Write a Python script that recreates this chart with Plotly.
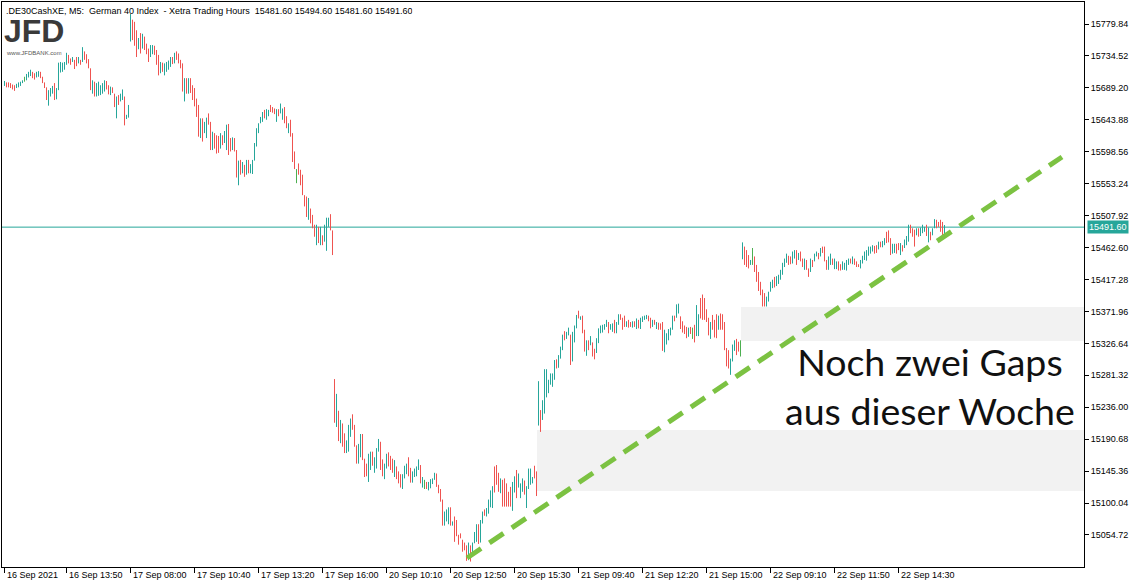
import plotly.graph_objects as go

# ---------------- data (M5 bars, 16 Sep 11:15 -> 22 Sep 16:25, Xetra hours) ----------------
opens = [
    # 16 Sep
    15692,15697,15697,15696,15694,15693,15689,15690,15692,15696,
    15702,15700,15704,15706,15712,15710,15704,15705,15712,15705,
    15697,15690,15664,15677,15681,15696,15673,15686,15711,15712,
    15715,15722,15736,15731,15726,15729,15733,15724,15729,15726,
    15741,15737,15730,15717,15681,15698,15677,15678,15679,15681,
    15684,15699,15693,15679,15690,15681,15646,15679,15670,15672,
    15677,15645,15647,
    # 17 Sep
    15755,15786,15783,15771,15744,15767,15745,15762,15752,15745,
    15733,15737,15749,15743,15736,15710,15725,15707,15712,15715,
    15719,15733,15724,15741,15738,15729,15724,15670,15703,15681,
    15703,15693,15689,15674,15665,15618,15646,15625,15618,15653,
    15641,15601,15625,15622,15621,15603,15622,15611,15601,15638,
    15618,15601,15618,15601,15551,15587,15568,15580,15566,15587,
    15568,15567,15586,15606,15625,15639,15641,15658,15644,15649,
    15665,15662,15660,15641,15659,15653,15644,15662,15649,15625,
    15644,15625,15599,15564,15582,15573,15566,15537,15535,15502,
    15518,15509,15495,15466,15492,15466,15480,15471,15458,15492,
    15510,15487,
    # 20 Sep
    15276,15208,15231,15185,15213,15199,15171,15173,15194,15226,
    15211,15182,15156,15165,15198,15163,15156,15130,15147,15173,
    15143,15149,15173,15187,15162,15134,15149,15172,15167,15163,
    15137,15152,15145,15141,15120,15135,15141,15165,15150,15129,
    15137,15138,15147,15154,15122,15126,15130,15118,15121,15127,
    15133,15142,15126,15120,15105,15068,15074,15070,15094,15068,
    15081,15076,15055,15057,15048,15044,15040,15019,15040,15029,
    15043,15045,15070,15044,15071,15091,15081,15085,15094,15093,
    15152,15154,15143,15114,15133,15135,15128,15116,15123,15089,
    15115,15147,15122,15107,15116,15132,15093,15120,15126,15128,
    15153,15145,
    # 21 Sep
    15210,15232,15218,15227,15250,15256,15268,15265,15275,15304,
    15292,15305,15317,15344,15333,15338,15339,15301,15328,15348,
    15373,15360,15366,15346,15309,15331,15324,15328,15319,15313,
    15327,15341,15342,15346,15350,15357,15346,15343,15360,15341,
    15353,15368,15363,15366,15350,15360,15357,15349,15358,15347,
    15360,15347,15357,15360,15361,15366,15363,15350,15360,15347,
    15356,15355,15357,15314,15325,15331,15338,15346,15366,15363,
    15369,15365,15358,15352,15350,15336,15350,15341,15353,15337,
    15337,15391,15396,15391,15375,15363,15333,15367,15360,15368,
    15346,15369,15368,15357,15320,15317,15282,15301,15316,15333,
    15329,15320,
    # 22 Sep
    15446,15464,15459,15452,15438,15450,15450,15438,15428,15414,
    15403,15398,15379,15386,15400,15405,15421,15408,15411,15417,
    15424,15435,15441,15451,15450,15440,15447,15459,15445,15457,
    15447,15431,15445,15433,15428,15445,15443,15450,15455,15450,
    15464,15464,15445,15431,15438,15447,15432,15432,15443,15439,
    15431,15431,15430,15438,15447,15439,15447,15443,15439,15433,
    15440,15445,15444,15451,15454,15457,15465,15466,15460,15471,
    15463,15466,15485,15487,15476,15454,15455,15468,15469,15452,
    15466,15462,15466,15471,15495,15490,15488,15480,15490,15479,
    15483,15485,15495,15470,15485,15480,15490,15502,15499,15502,
    15499,15481.6,
]

highs = [
    # 16 Sep
    15699,15697,15697,15696,15694,15693,15695,15697,15698,15700,
    15705,15709,15712,15715,15712,15710,15712,15713,15712,15705,
    15697,15690,15686,15689,15692,15696,15689,15725,15726,15725,
    15726,15739,15736,15731,15733,15729,15733,15733,15729,15747,
    15741,15737,15730,15717,15700,15698,15696,15698,15693,15696,
    15700,15699,15693,15691,15690,15681,15677,15679,15681,15687,
    15677,15651,15665,
    # 17 Sep
    15794,15786,15783,15771,15760,15767,15766,15762,15752,15745,
    15750,15750,15749,15743,15736,15726,15725,15724,15726,15728,
    15733,15733,15739,15741,15738,15729,15724,15703,15703,15703,
    15703,15693,15689,15674,15665,15646,15646,15641,15647,15653,
    15641,15627,15625,15622,15621,15625,15622,15628,15637,15638,
    15618,15619,15618,15601,15586,15587,15584,15580,15587,15587,
    15581,15587,15611,15632,15639,15648,15655,15658,15659,15658,
    15665,15662,15660,15659,15659,15667,15660,15662,15649,15639,
    15644,15625,15599,15574,15582,15573,15566,15537,15535,15533,
    15518,15509,15495,15495,15492,15492,15480,15495,15505,15505,
    15510,15487,
    # 20 Sep
    15276,15255,15231,15218,15213,15199,15189,15211,15220,15226,
    15211,15182,15184,15198,15198,15163,15156,15170,15173,15173,
    15165,15178,15191,15187,15162,15156,15170,15172,15167,15163,
    15161,15152,15145,15141,15141,15153,15156,15165,15150,15145,
    15149,15152,15162,15154,15137,15133,15130,15130,15134,15135,
    15143,15142,15126,15120,15105,15088,15091,15094,15094,15074,
    15081,15076,15055,15057,15048,15044,15040,15044,15040,15044,
    15059,15070,15070,15076,15088,15091,15093,15105,15118,15124,
    15152,15154,15143,15135,15133,15135,15128,15116,15123,15130,
    15138,15147,15142,15128,15135,15132,15124,15149,15149,15137,
    15153,15145,
    # 21 Sep
    15273,15232,15246,15290,15290,15275,15284,15284,15303,15304,
    15310,15322,15339,15344,15343,15349,15339,15343,15352,15367,
    15373,15365,15366,15346,15331,15331,15337,15328,15319,15334,
    15348,15352,15353,15354,15360,15357,15354,15355,15360,15357,
    15368,15368,15363,15366,15358,15360,15357,15358,15358,15362,
    15360,15363,15365,15366,15367,15366,15363,15360,15360,15357,
    15356,15355,15357,15346,15341,15347,15349,15366,15366,15382,
    15383,15365,15358,15352,15350,15349,15350,15349,15353,15381,
    15368,15391,15396,15391,15375,15363,15357,15367,15360,15368,
    15366,15369,15368,15357,15320,15317,15305,15325,15331,15333,
    15329,15331,
    # 22 Sep
    15470,15464,15459,15452,15445,15462,15450,15438,15428,15414,
    15403,15398,15393,15400,15414,15417,15421,15422,15424,15431,
    15441,15447,15454,15451,15450,15457,15459,15459,15455,15457,
    15447,15447,15445,15433,15447,15445,15454,15457,15455,15462,
    15464,15464,15445,15450,15454,15447,15447,15443,15443,15439,
    15443,15441,15445,15447,15447,15450,15447,15443,15439,15445,
    15451,15457,15459,15464,15464,15466,15465,15466,15471,15471,
    15472,15476,15485,15487,15476,15468,15468,15468,15469,15469,
    15466,15474,15479,15495,15495,15490,15488,15490,15490,15491,
    15495,15492,15495,15491,15485,15490,15503,15502,15499,15502,
    15499,15494.6,
]

lows = [
    # 16 Sep
    15692,15690,15690,15689,15687,15685,15689,15690,15692,15696,
    15698,15700,15704,15706,15703,15701,15704,15705,15703,15696,
    15689,15672,15664,15677,15681,15672,15673,15686,15711,15712,
    15715,15722,15724,15722,15726,15716,15720,15724,15722,15726,
    15729,15724,15717,15686,15681,15677,15677,15678,15679,15681,
    15684,15687,15680,15679,15682,15662,15646,15665,15670,15672,
    15636,15645,15647,
    # 17 Sep
    15755,15757,15749,15733,15744,15738,15745,15743,15737,15726,
    15733,15737,15736,15722,15707,15710,15712,15707,15712,15715,
    15719,15723,15724,15729,15724,15717,15684,15670,15681,15681,
    15682,15672,15663,15648,15620,15618,15613,15625,15618,15637,
    15601,15601,15603,15596,15597,15603,15608,15611,15601,15594,
    15599,15601,15599,15562,15551,15566,15568,15563,15566,15568,
    15568,15567,15586,15606,15625,15639,15641,15646,15644,15649,
    15655,15654,15652,15641,15649,15653,15644,15639,15632,15625,
    15620,15584,15574,15554,15566,15551,15537,15521,15506,15502,
    15497,15490,15478,15466,15469,15466,15466,15471,15458,15492,
    15487,15452,
    # 20 Sep
    15214,15208,15188,15185,15180,15171,15171,15173,15194,15204,
    15180,15156,15156,15165,15161,15137,15138,15130,15147,15153,
    15143,15149,15173,15147,15138,15134,15149,15152,15147,15143,
    15137,15134,15128,15122,15120,15135,15141,15138,15129,15129,
    15137,15138,15147,15128,15122,15120,15120,15118,15121,15127,
    15133,15123,15114,15102,15068,15068,15074,15070,15068,15068,
    15045,15053,15041,15050,15031,15033,15018,15019,15017,15029,
    15043,15045,15042,15044,15071,15082,15081,15085,15094,15093,
    15115,15126,15116,15114,15095,15095,15095,15095,15095,15089,
    15115,15107,15122,15107,15116,15112,15093,15120,15126,15128,
    15135,15110,
    # 21 Sep
    15210,15201,15218,15227,15250,15256,15268,15265,15275,15291,
    15292,15305,15317,15331,15333,15338,15296,15301,15328,15348,
    15362,15360,15341,15315,15309,15317,15324,15308,15304,15313,
    15327,15341,15342,15346,15350,15341,15346,15343,15341,15341,
    15353,15360,15346,15350,15350,15349,15350,15349,15350,15347,
    15348,15347,15357,15360,15361,15358,15348,15350,15353,15347,
    15346,15346,15316,15314,15325,15331,15338,15346,15358,15363,
    15369,15347,15342,15340,15334,15336,15340,15333,15328,15337,
    15337,15362,15360,15360,15357,15338,15333,15346,15335,15334,
    15346,15346,15346,15317,15294,15291,15282,15301,15316,15310,
    15315,15308,
    # 22 Sep
    15446,15438,15435,15433,15438,15438,15428,15414,15401,15395,
    15379,15379,15379,15386,15400,15405,15406,15408,15411,15417,
    15424,15435,15441,15438,15439,15440,15447,15438,15445,15443,
    15435,15431,15431,15421,15428,15435,15443,15450,15446,15450,
    15455,15443,15431,15431,15438,15438,15432,15432,15430,15430,
    15431,15431,15430,15438,15440,15439,15438,15435,15435,15433,
    15440,15445,15444,15451,15454,15457,15454,15455,15460,15463,
    15463,15466,15469,15470,15452,15454,15455,15454,15459,15452,
    15457,15462,15466,15471,15483,15478,15464,15480,15478,15479,
    15483,15485,15479,15470,15473,15480,15490,15490,15492,15485,
    15479,15481.6,
]

closes = [
    # 16 Sep
    15699,15690,15690,15689,15687,15685,15695,15697,15698,15700,
    15702,15709,15712,15715,15703,15701,15712,15713,15703,15696,
    15689,15672,15686,15689,15692,15672,15689,15725,15726,15725,
    15726,15739,15724,15722,15733,15716,15720,15733,15722,15747,
    15729,15724,15717,15686,15700,15677,15696,15698,15693,15696,
    15700,15687,15680,15691,15682,15662,15677,15665,15681,15687,
    15636,15651,15665,
    # 17 Sep
    15794,15757,15749,15733,15760,15738,15766,15743,15737,15726,
    15750,15750,15736,15722,15707,15726,15712,15724,15726,15728,
    15733,15723,15739,15729,15724,15717,15684,15703,15681,15703,
    15682,15672,15663,15648,15620,15646,15613,15641,15647,15637,
    15601,15627,15603,15596,15597,15625,15608,15628,15637,15594,
    15599,15619,15599,15562,15586,15566,15584,15563,15587,15568,
    15581,15587,15611,15632,15639,15648,15655,15646,15659,15658,
    15655,15654,15652,15659,15649,15667,15660,15639,15632,15639,
    15620,15584,15574,15564,15566,15551,15537,15521,15506,15533,
    15497,15490,15478,15495,15469,15492,15466,15495,15505,15505,
    15487,15452,
    # 20 Sep
    15214,15255,15188,15218,15180,15171,15189,15211,15220,15204,
    15180,15156,15184,15198,15161,15137,15138,15170,15173,15153,
    15165,15178,15191,15147,15138,15156,15170,15152,15147,15143,
    15161,15134,15128,15122,15141,15153,15156,15138,15129,15145,
    15149,15152,15162,15128,15137,15126,15120,15130,15134,15135,
    15143,15123,15114,15102,15068,15088,15091,15094,15068,15074,
    15045,15053,15041,15050,15031,15033,15018,15044,15017,15044,
    15059,15070,15042,15076,15088,15082,15093,15105,15118,15124,
    15115,15126,15116,15135,15095,15095,15095,15095,15095,15130,
    15138,15107,15142,15128,15135,15112,15124,15149,15149,15137,
    15135,15110,
    # 21 Sep
    15273,15201,15246,15290,15290,15275,15284,15284,15303,15291,
    15310,15322,15339,15331,15343,15349,15296,15343,15352,15367,
    15362,15365,15341,15315,15331,15317,15337,15308,15304,15334,
    15348,15352,15353,15354,15360,15341,15354,15355,15341,15357,
    15368,15360,15346,15350,15358,15349,15350,15358,15350,15362,
    15348,15363,15365,15366,15367,15358,15348,15360,15353,15357,
    15346,15346,15316,15346,15341,15347,15349,15366,15358,15382,
    15383,15347,15342,15340,15334,15349,15340,15341,15328,15381,
    15368,15362,15360,15360,15357,15338,15357,15346,15335,15334,
    15366,15346,15346,15317,15294,15291,15305,15325,15331,15310,
    15315,15320,
    # 22 Sep
    15470,15438,15435,15433,15445,15450,15428,15414,15401,15395,
    15379,15379,15393,15400,15414,15417,15406,15422,15424,15431,
    15441,15447,15454,15438,15439,15457,15459,15438,15455,15443,
    15435,15447,15431,15421,15447,15435,15454,15457,15446,15462,
    15455,15443,15431,15450,15454,15438,15447,15443,15430,15430,
    15443,15441,15445,15447,15440,15450,15438,15435,15435,15445,
    15451,15457,15459,15464,15464,15466,15454,15455,15471,15463,
    15472,15476,15469,15470,15452,15468,15468,15454,15459,15469,
    15457,15474,15479,15495,15483,15478,15464,15490,15478,15491,
    15495,15492,15479,15491,15473,15490,15503,15490,15492,15485,
    15479,15491.6,
]

tick_idx = [0, 31, 63, 95, 127, 159, 191, 223, 255, 287, 319, 351, 383, 415, 447]
tick_labels = ["16 Sep 2021", "16 Sep 13:50", "17 Sep 08:00", "17 Sep 10:40", "17 Sep 13:20",
               "17 Sep 16:00", "20 Sep 10:10", "20 Sep 12:50", "20 Sep 15:30", "21 Sep 09:40",
               "21 Sep 12:20", "21 Sep 15:00", "22 Sep 09:10", "22 Sep 11:50", "22 Sep 14:30"]

price_ticks = [15054.72, 15100.04, 15145.36, 15190.68, 15236.00, 15281.32, 15326.64,
               15371.96, 15417.28, 15462.60, 15507.92, 15553.24, 15598.56, 15643.88,
               15689.20, 15734.52, 15779.84]

last_price = 15491.60
title_text = ".DE30CashXE, M5:  German 40 Index  - Xetra Trading Hours  15481.60 15494.60 15481.60 15491.60"

# price gaps (start bar index, lower price, upper price)
gap_start = [267, 369]
gap_low = [15117.2, 15330.0]
gap_high = [15203.8, 15378.3]

# hand drawn trend line (bar index, price)
trend_x = [231.25, 528.75]
trend_y = [15022.1, 15591.1]

note_text = "Noch zwei Gaps<br>aus dieser Woche"

# ---------------- figure ----------------
TEAL = "#26a69a"
RED = "#ef5350"
DOJI = "#4caf50"
FONT = "Liberation Sans"

n = min(len(opens), len(highs), len(lows), len(closes))
xs = list(range(n))
norm = [i for i in range(n) if opens[i] != closes[i]]
doji = [i for i in range(n) if opens[i] == closes[i]]

fig = go.Figure()

fig.add_trace(go.Ohlc(
    x=[xs[i] for i in norm], open=[opens[i] for i in norm], high=[highs[i] for i in norm],
    low=[lows[i] for i in norm], close=[closes[i] for i in norm],
    increasing=dict(line=dict(color=TEAL, width=1)),
    decreasing=dict(line=dict(color=RED, width=1)),
    tickwidth=0, hoverinfo="skip", showlegend=False))

fig.add_trace(go.Ohlc(
    x=[xs[i] for i in doji], open=[opens[i] for i in doji], high=[highs[i] for i in doji],
    low=[lows[i] for i in doji], close=[closes[i] for i in doji],
    increasing=dict(line=dict(color=DOJI, width=1)),
    decreasing=dict(line=dict(color=DOJI, width=1)),
    tickwidth=0, hoverinfo="skip", showlegend=False))

fig.add_trace(go.Scatter(
    x=trend_x, y=trend_y, mode="lines",
    line=dict(color="#7cc242", width=5, dash="17px,10px"),
    hoverinfo="skip", showlegend=False))

X_MAX = 539.75
shapes = []
for s, lo, hi in zip(gap_start, gap_low, gap_high):
    shapes.append(dict(type="rect", xref="x", yref="y", x0=s - 0.75, x1=X_MAX, y0=lo, y1=hi,
                       fillcolor="#f2f2f2", line=dict(width=0), layer="below"))
shapes.append(dict(type="line", xref="paper", yref="y", x0=0, x1=1, y0=last_price, y1=last_price,
                   line=dict(color=TEAL, width=1), layer="below"))

annotations = []
for ti, tl in zip(tick_idx, tick_labels):
    annotations.append(dict(x=ti, y=0, xref="x", yref="paper", text=tl, showarrow=False,
                            xanchor="left", yanchor="top", xshift=0, yshift=-1,
                            font=dict(family=FONT, size=9, color="black")))

annotations.append(dict(x=1, y=last_price, xref="paper", yref="y", text=f"{last_price:.2f}",
                        showarrow=False, xanchor="left", yanchor="middle", xshift=3,
                        bgcolor=TEAL, borderpad=1,
                        font=dict(family=FONT, size=9, color="white")))

annotations.append(dict(x=0.0028, y=0.9858, xref="paper", yref="paper",
                        text=title_text.replace(" ", "\u00a0"), showarrow=False,
                        xanchor="left", yanchor="middle", height=11, borderpad=0,
                        font=dict(family=FONT, size=9, color="black")))

annotations.append(dict(x=0.0005, y=0.9478, xref="paper", yref="paper", text="<b>JFD</b>",
                        showarrow=False, xanchor="left", yanchor="middle", height=24, borderpad=0,
                        font=dict(family=FONT, size=32, color="#3a3a3a")))
annotations.append(dict(x=0.0028, y=0.9105, xref="paper", yref="paper", text="www.JFDBANK.com",
                        showarrow=False, xanchor="left", yanchor="middle", height=6, borderpad=0,
                        font=dict(family=FONT, size=6, color="#555555")))

annotations.append(dict(x=0.8577, y=0.3203, xref="paper", yref="paper", text=note_text,
                        showarrow=False, xanchor="center", yanchor="middle", align="center",
                        font=dict(family="Lato", size=37.5, color="#111111")))

fig.update_layout(
    width=1142, height=588,
    margin=dict(l=2, r=58, t=2, b=21),
    paper_bgcolor="white", plot_bgcolor="white",
    showlegend=False, hovermode=False,
    shapes=shapes, annotations=annotations,
)
fig.update_xaxes(range=[-1.25, X_MAX], showgrid=False, zeroline=False,
                 showline=True, mirror=True, linecolor="black", linewidth=1,
                 ticks="outside", ticklen=5, tickcolor="black", tickwidth=1,
                 tickvals=tick_idx, showticklabels=False,
                 rangeslider=dict(visible=False), fixedrange=True)
fig.update_yaxes(range=[15009.3, 15811.1], side="right", showgrid=False, zeroline=False,
                 showline=True, mirror=True, linecolor="black", linewidth=1,
                 ticks="outside", ticklen=4, tickcolor="black", tickwidth=1,
                 tickvals=price_ticks, ticktext=[f"{v:.2f}" for v in price_ticks],
                 tickfont=dict(family=FONT, size=9, color="black"), fixedrange=True)

fig.write_html("out.html",
               config={"displayModeBar": False, "staticPlot": True},
               post_script="document.body.style.margin='0';document.body.style.padding='0';"
                           "document.body.style.overflow='hidden';")
